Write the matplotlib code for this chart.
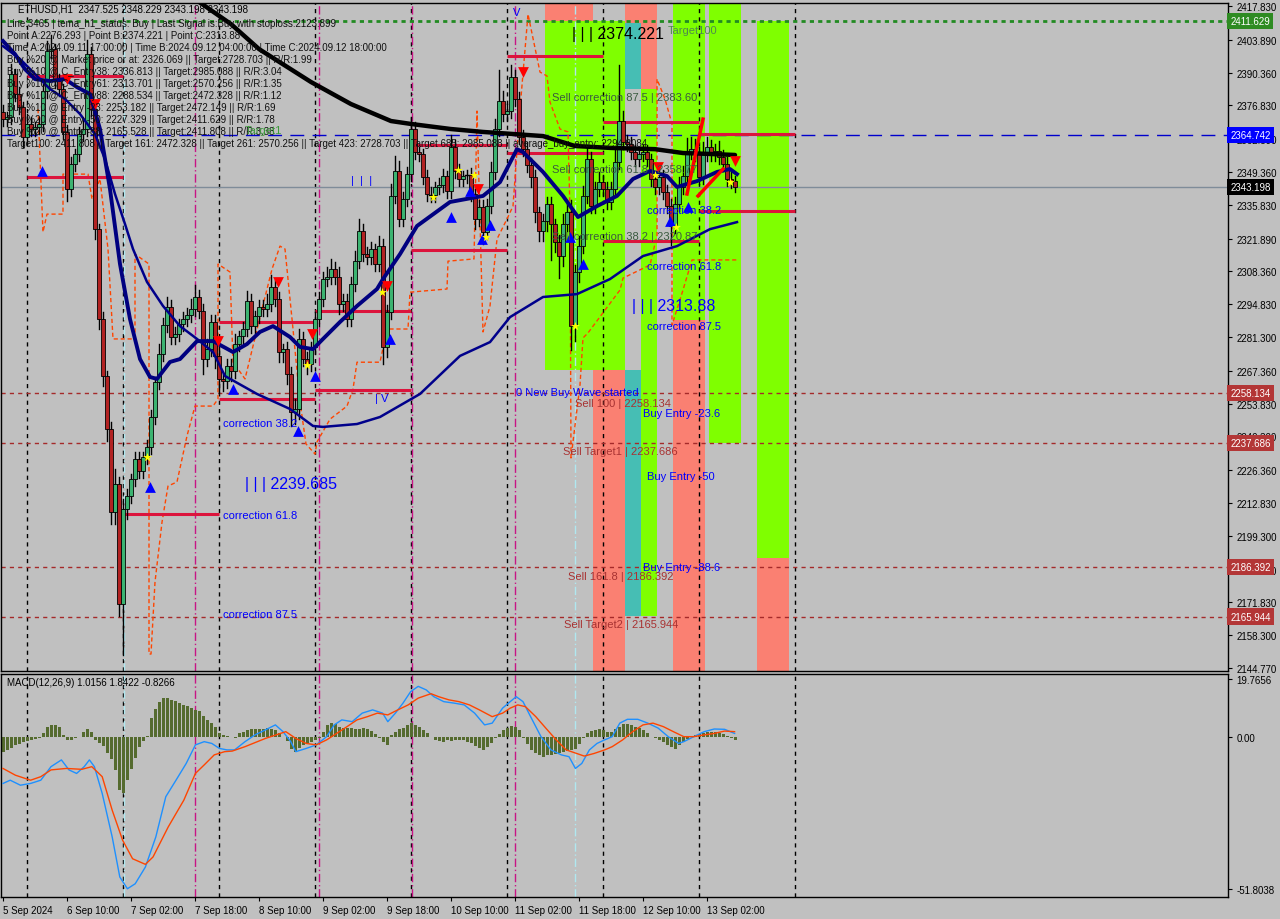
import matplotlib
matplotlib.use("Agg")
import matplotlib.pyplot as plt
from matplotlib.patches import Rectangle
import matplotlib.transforms as mtransforms

plt.rcParams['font.family'] = ['Liberation Sans', 'DejaVu Sans']

# ---------------- DATA ----------------
first_open = 2374.1
closes = [
    2371.2, 2372.0, 2389.8, 2381.5, 2376.2, 2363.8, 2369.2, 2367.1, 2367.9, 2369.2, 2382.8, 2399.3, 2400.1, 2386.9, 2383.6, 2365.9,
    2342.3, 2352.7, 2356.8, 2365.0, 2367.1, 2398.0, 2375.3, 2325.8, 2288.7, 2265.2, 2243.3, 2209.1, 2220.7, 2171.2, 2210.3, 2215.7,
    2222.7, 2231.0, 2226.0, 2231.8, 2235.9, 2248.3, 2262.7, 2274.3, 2286.2, 2293.7, 2281.3, 2282.5, 2286.7, 2288.7, 2290.4, 2292.8,
    2297.8, 2292.0, 2272.2, 2276.3, 2287.5, 2273.5, 2264.0, 2263.1, 2269.3, 2267.3, 2278.4, 2281.7, 2284.6, 2296.1, 2285.8, 2290.0,
    2293.7, 2292.8, 2294.9, 2301.9, 2297.0, 2275.1, 2276.3, 2266.0, 2250.4, 2251.6, 2280.5, 2272.2, 2270.2, 2277.2, 2288.7, 2297.0,
    2305.2, 2306.0, 2309.3, 2306.0, 2294.9, 2296.1, 2288.7, 2303.2, 2312.6, 2325.0, 2315.5, 2314.3, 2317.6, 2311.4, 2318.8, 2277.2,
    2291.6, 2339.5, 2349.8, 2330.0, 2338.2, 2348.5, 2367.1, 2357.6, 2356.8, 2347.3, 2340.3, 2339.9, 2343.2, 2344.0, 2347.7, 2341.5,
    2359.7, 2349.8, 2346.5, 2347.7, 2348.1, 2340.3, 2330.0, 2334.9, 2324.6, 2335.3, 2349.4, 2367.1, 2378.6, 2373.3, 2374.5, 2388.5,
    2379.5, 2363.8, 2358.8, 2352.2, 2347.3, 2332.9, 2325.0, 2329.1, 2336.2, 2327.9, 2320.5, 2314.7, 2327.9, 2332.9, 2285.8, 2308.1,
    2318.8, 2339.5, 2354.7, 2335.3, 2342.3, 2345.2, 2342.3, 2337.0, 2342.3, 2353.5, 2370.4, 2361.7, 2360.9, 2357.6, 2354.7, 2356.8,
    2357.6, 2354.7, 2346.5, 2343.2, 2347.3, 2341.1, 2335.3, 2327.1, 2336.2, 2343.2, 2347.7, 2357.6, 2358.8, 2356.8, 2347.3, 2356.8,
    2359.7, 2356.8, 2358.0, 2355.5, 2352.7, 2346.5, 2345.6, 2343.2]
wick_up = [
    3, 2, 4, 2, 3, 2, 4, 3, 2, 3, 3, 4, 6, 2, 3, 2,
    3, 3, 2, 3, 4, 6, 3, 3, 2, 3, 2, 3, 6, 3, 4, 3,
    2, 3, 3, 2, 3, 3, 2, 4, 3, 4, 3, 3, 2, 3, 3, 4,
    5, 3, 3, 4, 3, 3, 4, 2, 3, 3, 4, 2, 3, 4, 3, 2,
    3, 3, 4, 5, 3, 3, 2, 3, 3, 4, 4, 3, 3, 2, 3, 3,
    3, 4, 4, 3, 4, 3, 3, 3, 4, 5, 3, 3, 3, 2, 4, 3,
    3, 5, 6, 4, 3, 3, 5, 3, 2, 2, 3, 3, 2, 3, 3, 2,
    5, 3, 3, 2, 2, 3, 2, 3, 3, 3, 4, 4, 13, 4, 3, 5,
    3, 3, 3, 3, 3, 3, 2, 3, 3, 3, 2, 3, 4, 4, 5, 3,
    4, 4, 6, 3, 3, 4, 3, 3, 3, 5, 23, 4, 3, 3, 3, 3,
    3, 3, 2, 3, 4, 3, 3, 3, 3, 4, 4, 6, 5, 4, 3, 5,
    4, 3, 3, 4, 3, 3, 3, 2]
wick_dn = [
    3, 3, 3, 3, 3, 4, 3, 3, 3, 3, 3, 3, 3, 3, 3, 3,
    5, 3, 3, 3, 3, 3, 3, 4, 4, 4, 5, 5, 5, 5, 21, 4,
    3, 3, 3, 3, 3, 3, 3, 3, 3, 3, 3, 3, 3, 3, 3, 3,
    3, 3, 6, 3, 3, 5, 6, 4, 3, 4, 3, 3, 3, 3, 3, 3,
    3, 3, 3, 3, 3, 4, 4, 4, 6, 5, 4, 3, 4, 3, 3, 3,
    3, 3, 3, 3, 4, 3, 3, 3, 3, 3, 3, 3, 3, 3, 3, 7,
    4, 3, 3, 3, 3, 3, 3, 3, 3, 3, 3, 3, 3, 3, 3, 3,
    3, 3, 3, 3, 3, 3, 4, 3, 5, 3, 3, 3, 3, 3, 3, 3,
    3, 3, 3, 3, 4, 4, 4, 4, 4, 15, 4, 9, 4, 3, 10, 6,
    4, 3, 3, 3, 3, 3, 3, 3, 3, 3, 3, 3, 3, 3, 3, 3,
    3, 3, 3, 3, 3, 3, 3, 8, 3, 3, 3, 3, 3, 3, 3, 3,
    3, 3, 3, 3, 3, 3, 3, 2]

# moving averages (bar index, price)
ma_long_x = [48, 57, 64, 77, 87, 97, 102, 112, 120, 128, 135, 143, 152, 163, 170, 177, 183]
ma_long_y = [2420.7, 2410.4, 2400.1, 2386.5, 2377.4, 2370.4, 2369.2, 2367.1, 2365.9, 2365.0, 2364.2,
             2360.1, 2359.3, 2358.8, 2357.2, 2356.8, 2356.4]
ma_fast_x = [0, 3, 5.5, 8, 11.75, 15.5, 18.5, 21.75, 24.25, 26.75, 29.25, 31.75, 34.25, 36.75, 38.5, 41.75,
             44.25, 48.5, 52.5, 57.5, 61, 64.25, 67.5, 71.75, 74.25, 77.5, 80, 84.25, 88.5, 93.5, 95, 99.25,
             103.5, 111.75, 120, 124.25, 128.5, 130, 135, 140, 143.75, 148.5, 153.5, 157.5, 161.75, 166,
             168.5, 173.5, 178.5, 181.75, 183.5]
ma_fast_y = [2403.4, 2398.0, 2391.8, 2387.7, 2386.9, 2387.7, 2384.4, 2381.5, 2367.1, 2342.3, 2311.4, 2288.7,
             2272.2, 2264.8, 2264.0, 2271.0, 2272.2, 2279.6, 2279.6, 2275.1, 2278.4, 2283.4, 2285.8, 2281.3,
             2277.2, 2276.3, 2280.5, 2287.5, 2294.1, 2301.1, 2305.2, 2315.5, 2327.1, 2337.0, 2339.5, 2345.2,
             2358.8, 2357.6, 2349.4, 2339.5, 2330.8, 2335.3, 2339.5, 2346.5, 2349.8, 2347.7, 2343.2, 2345.6,
             2349.4, 2350.6, 2348.5]
ma_slow_x = [0, 4.25, 8, 11.75, 15.5, 19.25, 23, 25.5, 28, 30.5, 32.5, 36, 40, 44.25, 48.5, 52.5, 55.5,
             63.5, 71.75, 77.5, 80, 88.5, 94.25, 104.25, 114.25, 121.75, 126.75, 135, 143.5, 151.75, 160,
             168.5, 176.75, 183.5]
ma_slow_y = [2401.3, 2396.0, 2389.8, 2383.6, 2379.5, 2373.3, 2365.0, 2354.7, 2340.3, 2327.9, 2317.6, 2304.0,
             2294.1, 2285.8, 2280.5, 2275.1, 2265.2, 2257.8, 2251.6, 2244.6, 2244.2, 2245.4, 2248.3, 2257.8,
             2273.5, 2279.2, 2289.5, 2297.8, 2299.0, 2305.2, 2314.7, 2318.8, 2325.8, 2328.7]

# dashed trailing line (bar index, price)
trail_x = [8.75, 10, 11, 15, 15, 21.25, 22.25, 24.25, 26.25, 27.5, 33, 33, 36.5, 36.5, 37, 38, 39.75, 41.25,
           43.5, 46, 48, 52.5, 53.75, 53.75, 56.75, 57.5, 60.5, 64.75, 67.25, 69.25, 70.5, 72.5, 74.25, 75.75,
           78, 78.5, 81.75, 86, 87.5, 88.5, 94.25, 96, 101.25, 101.75, 111, 111.25, 117.75, 118.5, 120,
           121.75, 123.5, 126, 127.5, 129.25, 131.25, 134.25, 136, 136.75, 139.25, 141.25, 141.75, 142,
           144.25, 145, 146.25, 154.25, 155, 161.75, 163.5, 163.5, 165.5, 167.25, 167.25, 170, 172.25, 183.5]
trail_y = [2375.3, 2324.6, 2332.0, 2332.0, 2348.5, 2348.5, 2338.2, 2346.5, 2317.6, 2280.5, 2280.5, 2315.5,
           2311.4, 2150.5, 2150.5, 2180.2, 2204.9, 2219.8, 2221.5, 2240.5, 2252.8, 2252.8, 2255.7, 2311.4,
           2308.1, 2271.0, 2264.0, 2292.8, 2309.3, 2318.8, 2317.6, 2284.6, 2254.5, 2237.2, 2233.0, 2238.0,
           2247.4, 2252.8, 2259.8, 2270.9, 2270.9, 2284.6, 2284.6, 2299.8, 2301.1, 2312.6, 2313.5, 2374.5,
           2283.4, 2294.1, 2321.7, 2330.0, 2335.3, 2375.3, 2414.5, 2390.6, 2389.0, 2378.2, 2367.1, 2365.9,
           2332.4, 2231.4, 2261.5, 2280.9, 2283.0, 2300.7, 2305.6, 2311.0, 2323.3, 2387.7, 2379.5, 2369.2,
           2286.2, 2300.7, 2313.1, 2313.1]

# MACD
macd_x = [0, 1.8, 4.35, 6.9, 9.45, 12.0, 14.6, 16.5, 18.4, 20.3, 21.6, 22.85, 24.8, 27.3, 29.2, 31.1, 33.05,
          35.6, 38.2, 40.7, 43.25, 45.8, 48.1, 50.3, 52.2, 54.1, 56.0, 57.9, 60.5, 63.0, 65.6, 68.1, 70.0,
          71.95, 73.2, 75.8, 78.3, 80.9, 82.8, 84.7, 87.3, 89.8, 92.4, 94.9, 96.2, 98.1, 100.0, 101.9, 103.8,
          105.8, 107.7, 110.2, 112.8, 115.3, 117.9, 120.4, 122.3, 124.9, 126.8, 128.3, 130.0, 131.9, 134.5,
          137.0, 139.6, 141.5, 143.1, 144.7, 146.6, 148.5, 150.4, 152.3, 154.2, 156.1, 158.7, 161.2, 163.8,
          166.3, 168.9, 170.2, 172.7, 175.3, 177.8, 180.4, 182.9]
macd_v = [-15.8, -14.7, -16.4, -15.8, -14.7, -10.1, -7.8, -11.2, -12.4, -10.1, -7.8, -10.1, -19.2, -34.0,
          -47.6, -51.6, -49.9, -44.2, -34.0, -20.3, -14.7, -9.0, -2.7, -1.6, -2.2, -3.9, -4.4, -4.4, -1.6, 0.7,
          2.4, 4.1, 1.8, -1.6, -5.0, -3.9, -2.7, 0.1, 4.1, 5.8, 5.2, 8.1, 9.2, 8.1, 5.2, 8.1, 11.5, 15.4, 17.2,
          16.0, 13.7, 12.0, 11.5, 10.9, 8.1, 4.1, 4.7, 9.8, 12.0, 13.7, 12.0, 6.9, 0.1, -4.4, -6.1, -6.7,
          -10.7, -9.0, -4.4, -2.2, -1.0, 0.1, 4.7, 6.0, 6.0, 4.7, 3.0, 0.1, -2.2, -1.6, 0.1, 1.8, 2.7, 2.6, 1.2]
sig_x = [0, 3.1, 6.9, 9.45, 12.0, 15.8, 19.7, 22.2, 24.8, 27.3, 29.9, 32.4, 35.6, 37.5, 41.3, 45.2, 48.1,
         50.3, 52.8, 55.4, 57.3, 60.5, 65.6, 70.7, 73.2, 75.8, 78.3, 80.9, 83.4, 86.0, 88.5, 91.1, 93.6, 96.2,
         98.7, 101.3, 103.8, 107.0, 108.9, 111.5, 114.0, 116.6, 119.1, 122.3, 124.9, 126.8, 128.7, 130.6,
         133.2, 135.7, 138.3, 140.8, 143.4, 145.3, 147.8, 150.4, 152.3, 154.9, 157.4, 160.0, 162.5, 165.1,
         167.6, 170.2, 172.7, 175.3, 177.8, 180.4, 182.9]
sig_v = [-10.7, -13.0, -14.7, -13.5, -11.2, -10.7, -11.0, -10.1, -13.5, -24.9, -35.1, -41.4, -43.3, -40.8,
         -30.6, -21.5, -12.4, -9.5, -6.1, -5.0, -4.8, -3.3, -0.5, 1.8, -0.5, -2.2, -2.7, -1.0, 1.2, 3.5, 5.8,
         6.9, 8.1, 7.5, 9.2, 10.9, 13.2, 14.7, 13.7, 12.6, 12.0, 10.9, 9.2, 6.9, 8.1, 9.8, 10.9, 10.3, 6.9,
         3.0, -1.0, -4.4, -5.6, -6.5, -5.6, -4.4, -3.3, -1.0, 1.8, 4.1, 4.7, 3.5, 1.8, 0.1, 0.1, 0.7, 1.2,
         2.0, 1.8]
hist = [
    -5.0, -4.4, -3.6, -2.8, -2.3, -1.7, -1.4, -1.1, -0.8, -0.2, 1.2, 3.3, 3.9, 4.0, 3.3, 0.7,
    -1.0, -1.2, -0.5, 0.1, 1.8, 2.6, 1.6, -1.0, -1.9, -3.1, -5.6, -7.6, -11.2, -18.1, -19.2, -14.7,
    -10.9, -7.3, -3.5, -1.5, 0.3, 6.4, 9.4, 11.8, 13.1, 13.2, 12.7, 12.2, 11.6, 11.0, 10.5, 9.9,
    9.3, 8.7, 7.2, 5.8, 4.7, 3.5, 1.5, 0.6, 0.2, -0.1, -0.5, 1.2, 1.8, 2.4, 2.6, 2.7,
    2.8, 2.7, 3.0, 2.6, 2.2, 1.2, 0.1, -1.4, -4.2, -5.0, -3.9, -2.6, -2.2, -1.7, -1.1, -0.5,
    1.8, 4.1, 4.7, 4.3, 3.5, 3.0, 3.1, 3.2, 2.8, 2.8, 3.2, 2.6, 2.0, 1.0, -0.2, -1.6,
    -2.7, 0.7, 1.8, 2.6, 3.2, 4.0, 4.7, 4.2, 3.5, 2.4, 1.2, -0.1, -1.0, -1.4, -1.6, -1.2,
    -1.4, -1.0, -1.2, -1.0, -1.6, -2.2, -3.1, -3.9, -4.4, -3.5, -1.9, -0.5, 1.0, 2.4, 3.2, 3.7,
    3.5, 2.4, -0.5, -2.4, -4.4, -5.6, -6.1, -6.7, -6.2, -6.1, -5.8, -5.3, -5.0, -4.8, -4.4, -4.0,
    -2.4, -0.5, 1.2, 1.9, 2.4, 2.6, 2.4, 1.8, 1.7, 2.6, 3.5, 4.4, 4.4, 4.1, 3.5, 3.0,
    2.4, 1.2, 0.1, -0.5, -1.2, -1.6, -2.6, -3.3, -4.1, -2.8, -1.6, -0.6, 0.3, 0.7, 1.0, 1.5,
    1.8, 1.8, 1.7, 1.2, 0.9, 0.3, -0.5, -1.0]

price_ticks = [2417.830, 2403.890, 2390.360, 2376.830, 2362.890, 2349.360, 2335.830, 2321.890, 2308.360,
               2294.830, 2281.300, 2267.360, 2253.830, 2240.300, 2226.360, 2212.830, 2199.300, 2185.360,
               2171.830, 2158.300, 2144.770]
macd_ticks = [19.7656, 0.0, -51.8038]
macd_tick_labels = ['19.7656', '0.00', '-51.8038']
time_ticks = [0, 16, 32, 48, 64, 80, 96, 112, 128, 144, 160, 176]
time_labels = ['5 Sep 2024', '6 Sep 10:00', '7 Sep 02:00', '7 Sep 18:00', '8 Sep 10:00', '9 Sep 02:00',
               '9 Sep 18:00', '10 Sep 10:00', '11 Sep 02:00', '11 Sep 18:00', '12 Sep 10:00', '13 Sep 02:00']

# horizontal levels
lvl_target = 2411.629
lvl_avg = 2364.742
lvl_last = 2343.198
lvl_sell = [2258.134, 2237.686, 2186.392, 2165.944]

# period boxes: (start bar, end bar, price)
period_lines = [(6, 30, 2389.0), (6, 30, 2347.3), (30, 54, 2208.3), (54, 78, 2287.5), (54, 78, 2255.7),
                (78, 102, 2292.0), (78, 102, 2259.4), (102, 126, 2317.2), (102, 126, 2360.5),
                (126, 150, 2397.2), (126, 150, 2357.2), (150, 174, 2370.0), (150, 174, 2320.9),
                (174, 198, 2365.0), (174, 198, 2333.3)]
diag_lines = [((171, 175), (2340.3, 2371.2)), ((173.75, 180), (2339.5, 2350.6))]

# zone blocks: (x0, x1, low, high, colour)
GREEN, SALMON, TEAL = '#7FFF00', '#FA8072', '#46BEB4'
zones = [(136, 148, 2411.6, 2425, SALMON), (136, 156, 2267.7, 2411.6, GREEN), (148, 156, 2140, 2267.7, SALMON),
         (156, 164, 2383.6, 2425, SALMON), (156, 160, 2383.6, 2410.8, TEAL), (156, 160, 2166.2, 2267.7, TEAL),
         (160, 164, 2166.2, 2383.6, GREEN), (168, 176, 2288.5, 2425, GREEN), (168, 176, 2140, 2288.5, SALMON),
         (177, 185, 2237.686, 2425, GREEN), (189, 197, 2190.1, 2411.6, GREEN), (189, 197, 2140, 2190.1, SALMON)]

up_arrows_x = [9.75, 36.75, 57.5, 73.75, 78, 96.75, 112, 116.75, 119.75, 121.75, 141.75, 145, 166.75, 171.25]
up_arrows_y = [2349.7, 2219.4, 2259.8, 2242.5, 2265.2, 2280.5, 2330.8, 2341.5, 2321.7, 2327.5, 2322.5, 2311.4,
               2329.1, 2334.9]
dn_arrows_x = [16, 23, 53.75, 68.75, 77.25, 96, 118.75, 130, 163.75, 183]
dn_arrows_y = [2387.7, 2377.4, 2279.6, 2304.0, 2282.5, 2302.3, 2342.3, 2390.6, 2351.4, 2353.9]
stars_x = [107.5, 113.75, 117.75, 120.75, 94.75, 76, 143, 163, 168.25, 181.75, 36]
stars_y = [2339.0, 2350.2, 2348.1, 2322.5, 2299.9, 2269.7, 2285.8, 2348.1, 2326.7, 2345.2, 2231.8]

day_lines = [6, 30, 54, 78, 102, 126, 150, 174, 198]
magenta_lines = [48, 79, 102.25, 128]
cyan_lines = [30.25, 143]

info_lines = [
    "Line:3465 | tema_h1_status: Buy | Last Signal is:Buy with stoploss:2123.899",
    "Point A:2276.293 | Point B:2374.221 | Point C:2313.88",
    "Time A:2024.09.11 17:00:00 | Time B:2024.09.12 04:00:00 | Time C:2024.09.12 18:00:00",
    "Buy %20 @ Market price or at: 2326.069 || Target:2728.703 || R/R:1.99",
    "Buy %10 @ C_Entry38: 2336.813 || Target:2985.088 || R/R:3.04",
    "Buy %10 @ C_Entry61: 2313.701 || Target:2570.256 || R/R:1.35",
    "Buy %10 @ C_Entry88: 2288.534 || Target:2472.328 || R/R:1.12",
    "Buy %10 @ Entry -23: 2253.182 || Target:2472.149 || R/R:1.69",
    "Buy %20 @ Entry -50: 2227.329 || Target:2411.629 || R/R:1.78",
    "Buy %20 @ Entry -88: 2165.528 || Target:2411.808 || R/R:3.38",
    "Target100: 2411.808 || Target 161: 2472.328 || Target 261: 2570.256 || Target 423: 2728.703 || "
    "Target 685: 2985.088 || average_buy_entry: 2294.8084",
]

# ---------------- FIGURE ----------------
BG = '#C0C0C0'
fig = plt.figure(figsize=(12.8, 9.2), dpi=100, facecolor=BG)
ax = fig.add_axes([1 / 1280, 1 - 672 / 920, 1227 / 1280, 668 / 920])
axm = fig.add_axes([1 / 1280, 1 - 898 / 920, 1227 / 1280, 223 / 920])
XL = (-0.5, 306.25)
for a in (ax, axm):
    a.set_facecolor(BG)
    a.set_xlim(*XL)
    for s in a.spines.values():
        s.set_color('black')
        s.set_linewidth(1.0)
ax.set_ylim(2143.5, 2419.1)
axm.set_ylim(-54.4, 21.4)

# zones
for x0, x1, lo, hi, c in zones:
    ax.add_patch(Rectangle((x0 - 0.5, lo), x1 - x0, hi - lo, facecolor=c, edgecolor='none', zorder=0.5))

# vertical lines
for a in (ax, axm):
    for v in day_lines:
        a.axvline(v, color='black', lw=1, ls=(0, (3, 3)), zorder=1)
    for v in magenta_lines:
        a.axvline(v, color='#C71585', lw=1, ls=(0, (6, 2, 1, 2)), zorder=1)
    for v in cyan_lines:
        a.axvline(v, color='#B0E8F0', lw=1, ls=(0, (6, 2, 1, 2)), zorder=1)

# horizontal levels
ax.axhline(lvl_target, color='#228B22', lw=2, ls=(0, (1.5, 1.5)), zorder=2)
ax.axhline(lvl_avg, color='#0000CD', lw=1, ls=(0, (10, 6)), zorder=2)
ax.axhline(lvl_last, color='#7F8C99', lw=1, zorder=2)
for v in lvl_sell:
    ax.axhline(v, color='#A52A2A', lw=1, ls=(0, (3, 3)), zorder=2)

# trailing dashed line
ax.plot(trail_x, trail_y, color='#FF4500', lw=1, ls=(0, (3, 2)), zorder=2.5)

# period lines
for x0, x1, p in period_lines:
    ax.plot([x0, x1], [p, p], color='#DC143C', lw=2.2, zorder=2.6, solid_capstyle='butt')
for xs, ys in diag_lines:
    ax.plot(xs, ys, color='#FF0000', lw=2.5, zorder=4.5)

# candles
opens = [first_open] + closes[:-1]
for i, (o, c) in enumerate(zip(opens, closes)):
    hi = max(o, c) + wick_up[i]
    lo = min(o, c) - wick_dn[i]
    ax.plot([i, i], [lo, hi], color='black', lw=1, zorder=3)
    col = '#3CB371' if c >= o else '#B22222'
    h = abs(c - o)
    if h < 0.5:
        ax.plot([i - 0.4, i + 0.4], [c, c], color='black', lw=1, zorder=3.1)
    else:
        ax.add_patch(Rectangle((i - 0.38, min(o, c)), 0.76, h, facecolor=col, edgecolor='black',
                               lw=0.6, zorder=3.1))

# moving averages
ax.plot(ma_long_x, ma_long_y, color='black', lw=3.2, zorder=4, solid_capstyle='round')
ax.plot(ma_slow_x, ma_slow_y, color='#00008B', lw=1.8, zorder=4)
ax.plot(ma_fast_x, ma_fast_y, color='#000080', lw=2.8, zorder=4)

# signals
ax.scatter(up_arrows_x, up_arrows_y, marker='^', s=60, color='#0000FF', zorder=5, linewidths=0)
ax.scatter(dn_arrows_x, dn_arrows_y, marker='v', s=60, color='#FF0000', zorder=5, linewidths=0)
ax.scatter(stars_x, stars_y, marker='*', s=45, color='#FFFF00', zorder=5, linewidths=0)

# chart texts (data anchored)
SC = '#3A5A40'
ax.text(137.25, 2380.3, "Sell correction 87.5 | 2383.60", color=SC, fontsize=8, va='center', zorder=6)
ax.text(137.25, 2350.6, "Sell correction 61.8 | 2358.77", color=SC, fontsize=8, va='center', zorder=6)
ax.text(137.25, 2322.9, "Sell correction 38.2 | 2320.87", color=SC, fontsize=8, va='center', zorder=6)
ax.text(142.25, 2406.7, "| | | 2374.221", color='black', fontsize=11.5, va='center', zorder=6)
ax.text(166.25, 2407.9, "Target100", color='#4E8B4E', fontsize=8, va='center', zorder=6)
BL = '#0000FF'
for xx, yy, t in [(161, 2333.7, "correction 38.2"), (161, 2310.6, "correction 61.8"),
                  (161, 2285.8, "correction 87.5"), (55, 2245.8, "correction 38.2"),
                  (55, 2207.9, "correction 61.8"), (55, 2167.0, "correction 87.5"),
                  (128.25, 2258.6, "0 New Buy Wave started"), (160, 2249.9, "Buy Entry -23.6"),
                  (161, 2223.9, "Buy Entry -50"), (160, 2186.4, "Buy Entry -88.6")]:
    ax.text(xx, yy, t, color=BL, fontsize=8, va='center', zorder=6)
ax.text(157.25, 2294.5, "| | | 2313.88", color=BL, fontsize=11.5, va='center', zorder=6)
ax.text(60.5, 2220.7, "| | | 2239.685", color=BL, fontsize=11.5, va='center', zorder=6)
ax.text(87, 2346.0, "|  |  |", color=BL, fontsize=8, va='center', zorder=6)
ax.text(93, 2256.0, "| V", color=BL, fontsize=8, va='center', zorder=6)
ax.text(127.5, 2415.5, "V", color=BL, fontsize=8, va='center', zorder=6)
RC = '#A83232'
for xx, yy, t in [(143, 2254.1, "Sell 100 | 2258.134"), (140, 2234.3, "Sell Target1 | 2237.686"),
                  (141.25, 2182.7, "Sell 161.8 | 2186.392"), (140.25, 2162.9, "Sell Target2 | 2165.944")]:
    ax.text(xx, yy, t, color=RC, fontsize=8, va='center', zorder=6)

# info block (screen anchored)
def fx(px):
    return (px - 1) / 1227
def fy(py):
    return (672 - py) / 668
ax.text(fx(18), fy(10), "ETHUSD,H1  2347.525 2348.229 2343.198 2343.198", transform=ax.transAxes,
        fontsize=7, va='center', color='black', zorder=7)
for k, t in enumerate(info_lines):
    ax.text(fx(7), fy(24 + 12 * k), t, transform=ax.transAxes, fontsize=7, va='center',
            color='#111111', zorder=7)
ax.text(fx(245), fy(131), "Target1", transform=ax.transAxes, fontsize=8, va='center', color='#3C9A3C', zorder=7)

# price axis
ax.yaxis.tick_right()
ax.set_yticks(price_ticks)
ax.set_yticklabels([f"{v:.3f}" for v in price_ticks])
ax.tick_params(axis='y', direction='out', length=3, pad=3, labelsize=7, colors='black')
ax.set_xticks([])

blend = mtransforms.blended_transform_factory(ax.transAxes, ax.transData)
for v, c in [(lvl_target, '#2E8B22'), (lvl_avg, '#0000FF'), (lvl_last, '#000000'),
             (lvl_sell[0], '#B33636'), (lvl_sell[1], '#B33636'), (lvl_sell[2], '#B33636'),
             (lvl_sell[3], '#B33636')]:
    ax.text(1.0018, v, f"{v:.3f}", transform=blend, ha='left', va='center', fontsize=7, color='white',
            bbox=dict(boxstyle='square,pad=0.32', fc=c, ec='none'), clip_on=False, zorder=10)

# MACD panel
axm.bar(range(len(hist)), hist, width=0.75, color='#556B2F', zorder=2)
axm.plot(macd_x, macd_v, color='#1E90FF', lw=1, zorder=3)
axm.plot(sig_x, sig_v, color='#FF4500', lw=1, zorder=3)
axm.yaxis.tick_right()
axm.set_yticks(macd_ticks)
axm.set_yticklabels(macd_tick_labels)
axm.tick_params(axis='y', direction='out', length=3, pad=3, labelsize=7)
axm.set_xticks(time_ticks)
axm.set_xticklabels(time_labels, ha='left')
axm.tick_params(axis='x', direction='out', length=3, pad=3, labelsize=7)
axm.text(6 / 1227, (898 - 683) / 223, "MACD(12,26,9) 1.0156 1.8422 -0.8266", transform=axm.transAxes,
         fontsize=7, va='center', color='black')

fig.savefig('out.png', dpi=100, facecolor=BG)
